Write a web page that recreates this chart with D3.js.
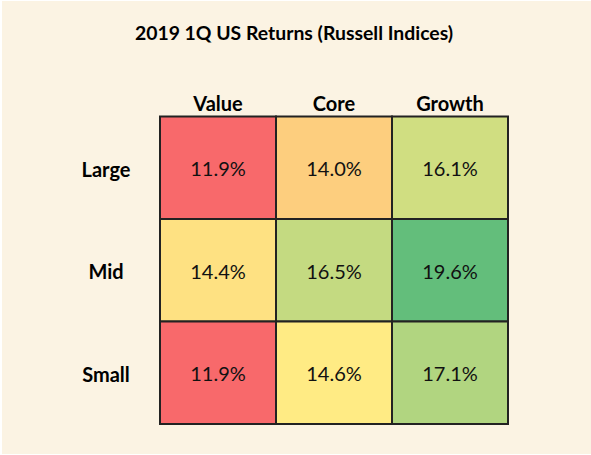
<!DOCTYPE html>
<html>
<head>
<meta charset="utf-8">
<script src="https://cdn.jsdelivr.net/npm/d3@7"></script>
<style>
  html, body { margin: 0; padding: 0; background: #ffffff; }
  svg { display: block; }
</style>
</head>
<body>
<svg id="chart" width="591" height="455"></svg>
<script>
// ---- data ----
const title = "2019 1Q US Returns (Russell Indices)";
const styles = ["Value", "Core", "Growth"];
const sizes = ["Large", "Mid", "Small"];
const largeReturns = [11.9, 14.0, 16.1];
const midReturns = [14.4, 16.5, 19.6];
const smallReturns = [11.9, 14.6, 17.1];
const returnsBySize = [largeReturns, midReturns, smallReturns];

const cells = [];
sizes.forEach((s, i) => styles.forEach((st, j) => cells.push({ size: s, style: st, value: returnsBySize[i][j] })));

const FONT = "Lato, 'Open Sans', sans-serif";
const svg = d3.select("#chart");
const W = 591, H = 455;

svg.append("rect").attr("x", 0).attr("y", 0).attr("width", W).attr("height", H).attr("fill", "#ffffff");
svg.append("rect").attr("x", 2).attr("y", 1).attr("width", W - 2).attr("height", H - 2).attr("fill", "#FBF3E3");

const x = d3.scaleBand().domain(styles).range([160, 508]);
const y = d3.scaleBand().domain(sizes).range([116.5, 424]);

const vals = cells.map(d => d.value);
const color = d3.scaleLinear()
  .domain([d3.min(vals), d3.median(vals), d3.max(vals)])
  .range(["#F8696B", "#FFEB84", "#63BE7B"])
  .interpolate(d3.interpolateRgb);

svg.append("text")
  .attr("x", 294).attr("y", 39.5)
  .attr("text-anchor", "middle")
  .attr("font-family", FONT).attr("font-weight", "bold").attr("font-size", 19.4)
  .attr("fill", "#000")
  .text(title);

const g = svg.append("g");
g.selectAll("rect.cell").data(cells).join("rect")
  .attr("class", "cell")
  .attr("x", d => x(d.style)).attr("y", d => y(d.size))
  .attr("width", x.bandwidth()).attr("height", y.bandwidth())
  .attr("fill", d => color(d.value))
  .attr("stroke", "#222").attr("stroke-width", 2);

g.selectAll("text.val").data(cells).join("text")
  .attr("class", "val")
  .attr("x", d => x(d.style) + x.bandwidth() / 2)
  .attr("y", d => y(d.size) + y.bandwidth() / 2 + 8.5)
  .attr("text-anchor", "middle")
  .attr("font-family", FONT).attr("font-size", 20)
  .attr("fill", "#111")
  .text(d => d.value.toFixed(1) + "%");

svg.selectAll("text.col").data(styles).join("text")
  .attr("class", "col")
  .attr("x", d => x(d) + x.bandwidth() / 2).attr("y", 110.5)
  .attr("text-anchor", "middle")
  .attr("font-family", FONT).attr("font-weight", "bold").attr("font-size", 20)
  .attr("fill", "#000")
  .text(d => d);

svg.selectAll("text.row").data(sizes).join("text")
  .attr("class", "row")
  .attr("x", 106).attr("y", d => y(d) + y.bandwidth() / 2 + 9)
  .attr("text-anchor", "middle")
  .attr("font-family", FONT).attr("font-weight", "bold").attr("font-size", 20)
  .attr("fill", "#000")
  .text(d => d);
</script>
</body>
</html>
